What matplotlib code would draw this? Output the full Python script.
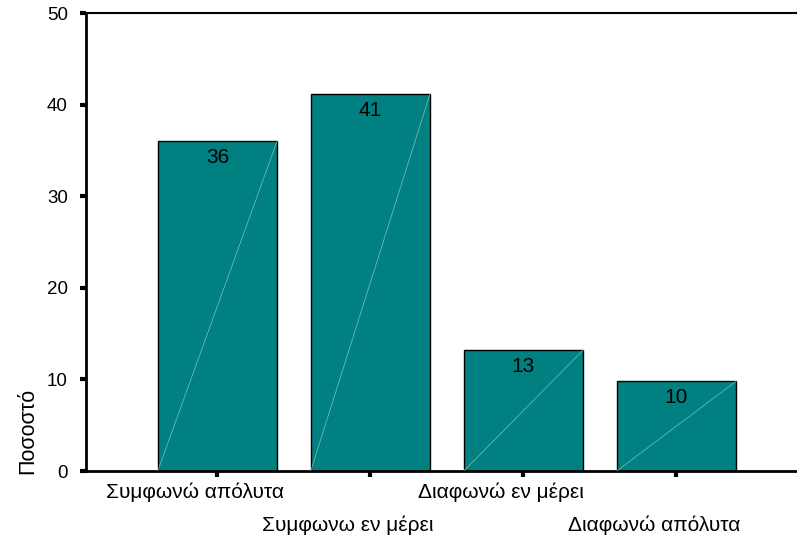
import matplotlib.pyplot as plt
import numpy as np

plt.rcParams["font.family"] = ["Liberation Sans", "DejaVu Sans"]

# response categories and percentages
categories = ["Συμφωνώ απόλυτα", "Συμφωνω εν μέρει", "Διαφωνώ εν μέρει", "Διαφωνώ απόλυτα"]
percent = [36.0, 41.2, 13.2, 9.8]
y_ticks = [0, 10, 20, 30, 40, 50]

bar_color = "#008080"
bar_width = 0.78

fig = plt.figure(figsize=(7.97, 5.39), dpi=100)
ax = fig.add_axes([86 / 797, 1 - 471 / 539, 1 - 86 / 797, 458 / 539])

x = np.arange(len(categories))
ax.bar(x, percent, width=bar_width, color=bar_color,
       edgecolor="black", linewidth=1.0, zorder=2)

# faint diagonal line across each bar
for xi, h in zip(x, percent):
    ax.plot([xi - bar_width / 2, xi + bar_width / 2], [0, h],
            color="#7fbfbf", linewidth=0.5, zorder=3)

# value labels inside the top of each bar
for xi, h in zip(x, percent):
    ax.annotate(f"{h:.0f}", xy=(xi, h), xytext=(0, -5),
                textcoords="offset points", ha="center", va="top",
                fontsize=15, color="black", zorder=4)

ax.set_xlim(-0.859, 3.788)
ax.set_ylim(0, 50)
ax.set_yticks(y_ticks)
ax.set_yticklabels([str(t) for t in y_ticks], fontsize=13.5)

# category names in two staggered rows, a bit left of each tick
ax.set_xticks(x)
ax.set_xticklabels([])
for i, (xi, name) in enumerate(zip(x, categories)):
    dy = -8 if i % 2 == 0 else -32
    ax.annotate(name, xy=(xi, 0), xycoords=("data", "axes fraction"),
                xytext=(-16, dy), textcoords="offset points",
                ha="center", va="top", fontsize=15, annotation_clip=False)

ax.tick_params(axis="y", direction="out", length=4, width=3, pad=9)
ax.tick_params(axis="x", direction="out", length=4, width=3)

for side in ["left", "bottom"]:
    ax.spines[side].set_linewidth(2)
ax.spines["top"].set_linewidth(1.5)
ax.spines["right"].set_visible(False)

fig.text(28 / 797, 1 - 431 / 539, "Ποσοστό", rotation=90,
         ha="center", va="center", fontsize=15.5)

plt.savefig("out.png", dpi=100)
